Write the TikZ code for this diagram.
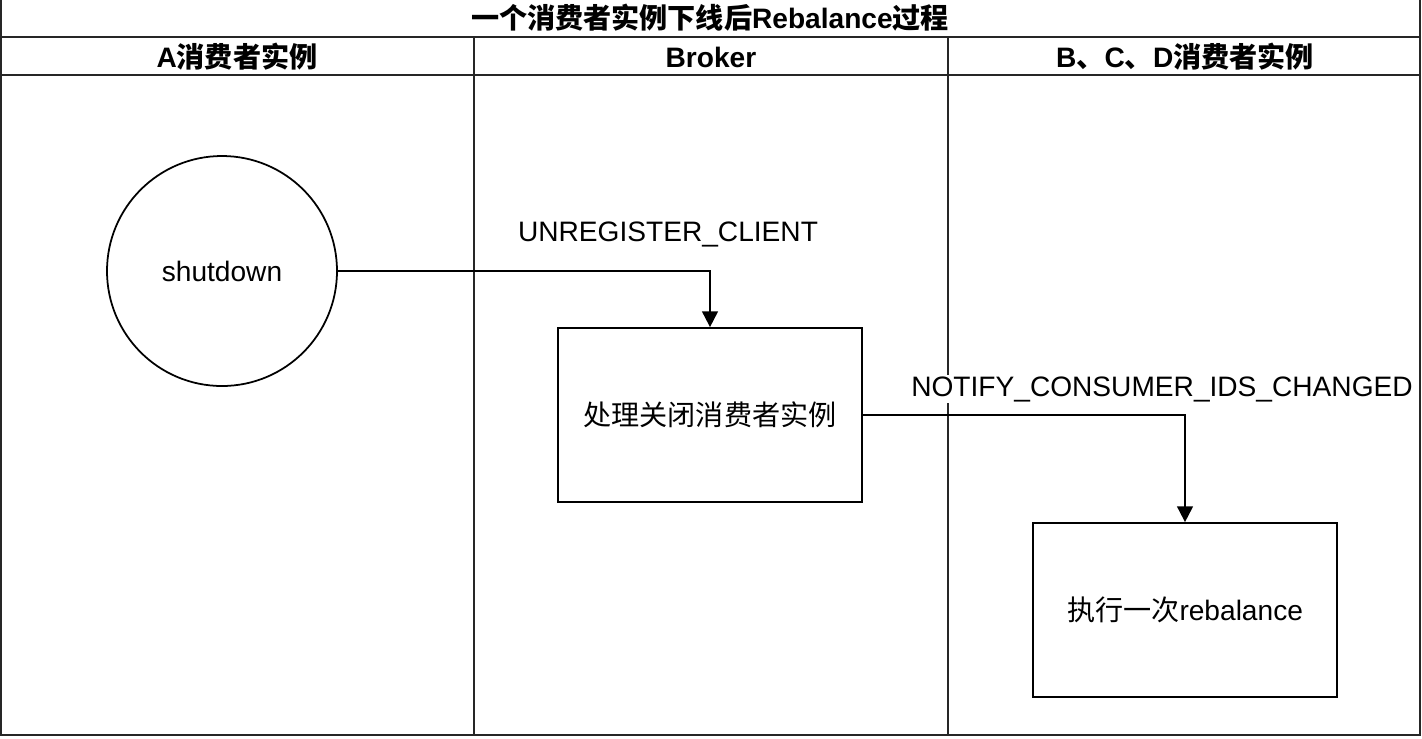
\documentclass[tikz,border=0pt]{standalone}
\usepackage{fontspec}
\setmainfont{Liberation Sans}
\newfontfamily\cjk{Noto Sans CJK SC}
\usetikzlibrary{arrows.meta,positioning}

\begin{document}
\begin{tikzpicture}[x=0.02cm,y=-0.02cm,
  lane/.style={line width=1pt,draw=black!85},
  frame/.style={line width=1.2pt,draw=black!85},
  flow/.style={line width=1.1pt,-{Triangle[length=9pt,width=9pt]}},
  stepbox/.style={draw,line width=1pt,minimum width=304*0.02cm,minimum height=174*0.02cm,inner sep=0pt},
  txt/.style={font=\fontsize{16}{19}\selectfont},
  head/.style={font=\fontsize{16}{19}\selectfont\bfseries}]
\useasboundingbox (0,0) rectangle (1422,738);
\fill[white] (0,0) rectangle (1422,738);
% frame and lanes
\draw[frame] (1,0) -- (1,735) -- (1420,735) -- (1420,0);
\draw[frame] (1,37) -- (1420,37);
\draw[frame] (1,75) -- (1420,75);
\draw[lane] (474,37) -- (474,735);
\draw[lane] (948,37) -- (948,735);
\node[head] (title) at (710,18) {{\cjk 一个消费者实例下线后}Rebalance{\cjk 过程}};
\node[head] (laneA) at (237,57) {A{\cjk 消费者实例}};
\node[head] (laneBroker) at (711,57) {Broker};
\node[head] (laneBCD) at (1185,57) {B{\cjk 、}C{\cjk 、}D{\cjk 消费者实例}};
% steps
\node[draw,circle,line width=1pt,minimum size=230*0.02cm,inner sep=0pt,txt] (shutdown) at (222,271) {shutdown};
\node[stepbox,txt] (close) at (710,415) {\cjk 处理关闭消费者实例};
\node[stepbox,txt] (rebal) at (1185,610) {{\cjk 执行一次}rebalance};
% messages
\draw[flow] (shutdown.east) -| (close.north);
\node[txt] (unreg) at (668,234) {UNREGISTER\_CLIENT};
\draw[flow] (close.east) -| (rebal.north);
\node[txt,fill=white,inner sep=1pt] (notify) at (1162,389) {NOTIFY\_CONSUMER\_IDS\_CHANGED};
\end{tikzpicture}
\end{document}
